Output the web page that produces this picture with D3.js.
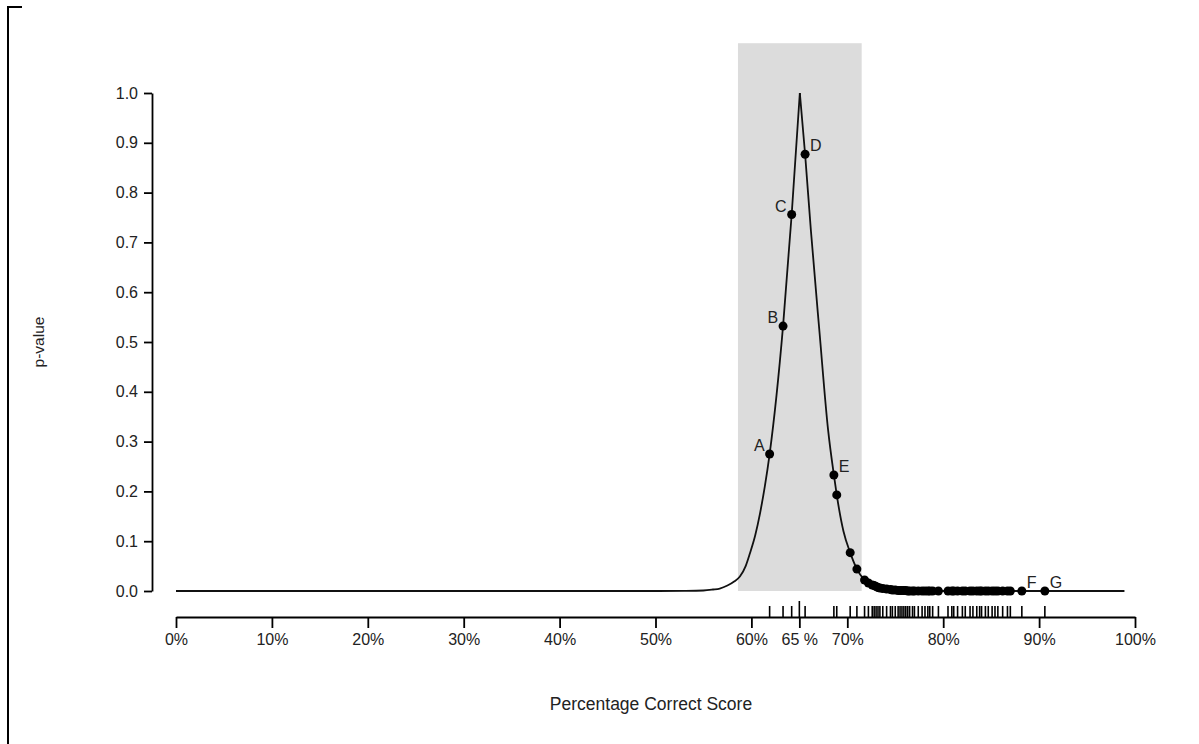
<!DOCTYPE html>
<html>
<head>
<meta charset="utf-8">
<script src="https://cdn.jsdelivr.net/npm/d3@7"></script>
<style>
  body { margin: 0; background: #fff; }
  svg { display: block; font-family: "Liberation Sans", Arial, sans-serif; }
</style>
</head>
<body>
<div class="chart"></div>
<script>
// axis ticks
const xTicks = [0, 10, 20, 30, 40, 50, 60, 65, 70, 80, 90, 100]
const yTicks = [0, 0.1, 0.2, 0.3, 0.4, 0.5, 0.6, 0.7, 0.8, 0.9, 1.0]

// p-value curve (left and right branch of the peak)
const leftPct = [0, 50, 53, 55, 56, 56.7, 57.5, 58.2, 58.8, 59.4, 59.85, 60.4, 60.9, 61.4, 61.9, 63.3, 64.2, 65.05]
const leftP = [0, 0, 0.0003, 0.001, 0.003, 0.005, 0.011, 0.019, 0.029, 0.05, 0.076, 0.112, 0.156, 0.21, 0.275, 0.532, 0.756, 1.0]
const rightPct = [65.05, 65.6, 66.2, 67.1, 68.0, 68.6, 68.9, 69.6, 70.3, 71.0, 71.8, 72.8, 73.4, 74.1, 75.3, 77, 80, 98.9]
const rightP = [1.0, 0.877, 0.725, 0.52, 0.323, 0.233, 0.193, 0.12, 0.077, 0.044, 0.022, 0.011, 0.006, 0.004, 0.001, 0.0003, 0, 0]

// observed scores and their p-values
const scores = [61.9, 63.3, 64.2, 65.6, 68.6, 68.9, 70.3, 71.0, 71.8, 72.2, 72.6, 72.8, 73.0, 73.2, 73.4, 73.7,
  74.1, 74.5, 74.7, 75.0, 75.3, 75.5, 75.7, 75.9, 76.1, 76.3, 76.5, 76.8, 77.0, 77.4, 77.8, 78.1, 78.4, 78.6,
  78.9, 79.5, 80.5, 80.9, 81.1, 81.5, 82.0, 82.3, 82.8, 83.1, 83.5, 83.8, 84.0, 84.4, 84.7, 85.1, 85.4, 85.7,
  86.2, 86.7, 87.0, 88.2, 90.6]
const scoreP = [0.275, 0.532, 0.756, 0.877, 0.233, 0.193, 0.077, 0.044, 0.022, 0.016, 0.012, 0.011, 0.009, 0.007,
  0.006, 0.005, 0.004, 0.003, 0.002, 0.002, 0.001, 0.001, 0.001, 0.001, 0.001, 0, 0, 0, 0, 0, 0, 0, 0, 0,
  0, 0, 0, 0, 0, 0, 0, 0, 0, 0, 0, 0, 0, 0, 0, 0, 0, 0,
  0, 0, 0, 0, 0]

// labelled points: letter -> index in scores
const labelNames = ["A", "B", "C", "D", "E", "F", "G"]
const labelIdx = [0, 1, 2, 3, 4, 55, 56]

// reference score and shaded interval
const refScore = 65
const shade = [58.6, 71.5]
const shadeTop = 1.1

const svg = d3.select(".chart").append("svg")
  .attr("width", 1199)
  .attr("height", 744)

// 比例尺
const x = d3.scaleLinear().domain([0, 100]).range([176, 1135])
const y = d3.scaleLinear().domain([0, 1]).range([591, 93])
const axisY = 617
const textColor = "#222"

// frame fragments
svg.append("line").attr("x1", 8).attr("y1", 6).attr("x2", 8).attr("y2", 744)
  .attr("stroke", "#000").attr("stroke-width", 2)
svg.append("line").attr("x1", 7).attr("y1", 7).attr("x2", 22).attr("y2", 7)
  .attr("stroke", "#000").attr("stroke-width", 2)

// shaded interval
svg.append("rect")
  .attr("x", x(shade[0]))
  .attr("y", y(shadeTop))
  .attr("width", x(shade[1]) - x(shade[0]))
  .attr("height", y(0) - y(shadeTop))
  .attr("fill", "#dcdcdc")

// y axis
const gy = svg.append("g")
  .attr("transform", "translate(152,0)")
  .call(d3.axisLeft(y).tickValues(yTicks).tickFormat(d3.format(".1f")).tickSize(8).tickSizeOuter(0).tickPadding(6))
gy.selectAll("path, line").attr("stroke", "#000").attr("stroke-width", 1.8)
gy.selectAll("text").attr("font-size", 16).attr("fill", textColor).attr("font-family", "Liberation Sans, Arial, sans-serif")

// x axis
const gx = svg.append("g")
  .attr("transform", `translate(0,${axisY})`)
  .call(d3.axisBottom(x).tickValues(xTicks).tickFormat(d => d === refScore ? "65 %" : d + "%").tickSize(11).tickSizeOuter(0).tickPadding(6))
gx.selectAll("path, line").attr("stroke", "#000").attr("stroke-width", 1.8)
gx.selectAll("text").attr("font-size", 16).attr("fill", textColor).attr("font-family", "Liberation Sans, Arial, sans-serif")

// rug
svg.append("g").selectAll("line")
  .data(scores)
  .join("line")
  .attr("x1", d => x(d)).attr("x2", d => x(d))
  .attr("y1", axisY - 11).attr("y2", axisY)
  .attr("stroke", "#000").attr("stroke-width", 1.6)

// reference marker above the axis
svg.append("line")
  .attr("x1", x(refScore)).attr("x2", x(refScore))
  .attr("y1", axisY - 16).attr("y2", axisY)
  .attr("stroke", "#000").attr("stroke-width", 1.6)

// p-value curve
const line = d3.line().x(d => x(d[0])).y(d => y(d[1])).curve(d3.curveMonotoneX)
const branches = [
  d3.zip(leftPct, leftP),
  d3.zip(rightPct, rightP),
]
svg.append("g").selectAll("path")
  .data(branches)
  .join("path")
  .attr("d", line)
  .attr("fill", "none")
  .attr("stroke", "#111")
  .attr("stroke-width", 1.8)

// points
svg.append("g").selectAll("circle")
  .data(d3.zip(scores, scoreP))
  .join("circle")
  .attr("cx", d => x(d[0]))
  .attr("cy", d => y(d[1]))
  .attr("r", 4.5)
  .attr("fill", "#000")

// letters
svg.append("g").selectAll("text")
  .data(labelNames)
  .join("text")
  .attr("x", (d, i) => x(scores[labelIdx[i]]) + (i < 3 ? -5 : 5))
  .attr("y", (d, i) => y(scoreP[labelIdx[i]]) - 3)
  .attr("text-anchor", (d, i) => i < 3 ? "end" : "start")
  .attr("font-size", 16)
  .attr("fill", textColor)
  .text(d => d)

// axis titles
svg.append("text")
  .attr("transform", `translate(44,342) rotate(-90)`)
  .attr("text-anchor", "middle")
  .attr("font-size", 15.5)
  .attr("fill", textColor)
  .text("p-value")

svg.append("text")
  .attr("x", 651)
  .attr("y", 710)
  .attr("text-anchor", "middle")
  .attr("font-size", 17.5)
  .attr("fill", textColor)
  .text("Percentage Correct Score")
</script>
</body>
</html>
